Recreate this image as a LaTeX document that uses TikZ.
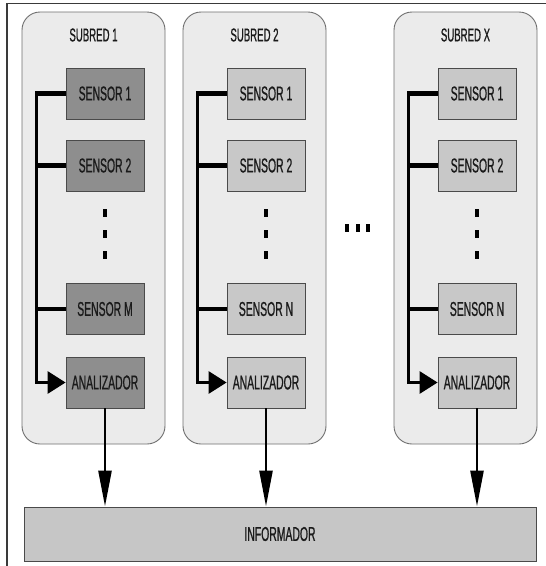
\documentclass[tikz,border=0pt]{standalone}
\usepackage{fontspec}
\newfontfamily\narrowsans[FakeStretch=0.52,FakeBold=0.8]{Liberation Sans}
\usetikzlibrary{arrows.meta}
\definecolor{framecol}{HTML}{3A3A3A}
\definecolor{netfill}{HTML}{EBEBEB}
\definecolor{netline}{HTML}{707070}
\definecolor{darkbox}{HTML}{8E8E8E}
\definecolor{lightbox}{HTML}{C8C8C8}
\definecolor{boxline}{HTML}{4A4A4A}
\definecolor{infofill}{HTML}{C6C6C6}
\definecolor{textcol}{HTML}{1A1A1A}
\tikzset{
  labelfont/.style={font=\narrowsans\fontsize{20}{20}\selectfont, text=textcol},
  subnet/.style={draw=netline, fill=netfill, line width=0.9pt, rounded corners=18pt,
    minimum width=143pt, minimum height=432pt, inner sep=0pt},
  nettitle/.style={labelfont, font=\narrowsans\fontsize{18.5}{18.5}\selectfont, inner sep=0pt},
  sensordark/.style={draw=boxline, fill=darkbox, line width=0.8pt, minimum width=78pt,
    minimum height=51pt, inner sep=0pt, labelfont},
  sensorlight/.style={sensordark, fill=lightbox},
  dotmark/.style={fill=black, minimum width=4pt, minimum height=8pt, inner sep=0pt},
  branch/.style={line width=4.5pt, black},
  busline/.style={line width=3pt, black, line join=miter,
    -{Triangle[length=18pt,width=22pt]}},
  outarrow/.style={line width=2.6pt, black, -{Triangle[length=36pt,width=13pt]}},
  infobox/.style={draw=boxline, fill=infofill, line width=1pt, minimum width=512pt,
    minimum height=54pt, inner sep=0pt, labelfont},
}
\newcommand\drawsubnet[5]{%
  \node[subnet] (#2box) at (#1+71.5,228) {};
  \node[nettitle] (#2title) at (#1+71.5,35) {#3};
  \node[#5] (#2sa) at (#1+83,93.5) {SENSOR 1};
  \node[#5] (#2sb) at (#1+83,165.5) {SENSOR 2};
  \node[dotmark] (#2da) at (#1+83,213) {};
  \node[dotmark] (#2db) at (#1+83,234) {};
  \node[dotmark] (#2dc) at (#1+83,255) {};
  \node[#5] (#2sm) at (#1+83,309) {#4};
  \node[#5] (#2an) at (#1+83,382.5) {ANALIZADOR};
  \coordinate (#2bus) at (#1+14,93.5);
  \coordinate (#2busend) at (#1+12.5,93.5);
  \draw[branch] (#2sa.west) -- (#2busend);
  \draw[branch] (#2sb.west) -- (#2sb.west -| #2bus);
  \draw[branch] (#2sm.west) -- (#2sm.west -| #2bus);
  \draw[busline] (#2bus) |- (#2an.west);
  \draw[outarrow] (#2an.south) -- (#2an.south |- info.north);
}
\begin{document}
\begin{tikzpicture}[x=1pt,y=-1pt]
\useasboundingbox (0,0) rectangle (546,566);
\fill[white] (0,0) rectangle (546,566);
\draw[framecol, line width=1.5pt] (7,566) coordinate (fa) -- (7,3.5) coordinate (fb) -- (546,3.5) coordinate (fc);
\node[infobox] (info) at (280,534) {INFORMADOR};
\drawsubnet{22}{n1}{SUBRED 1}{SENSOR M}{sensordark}
\drawsubnet{183}{n2}{SUBRED 2}{SENSOR N}{sensorlight}
\drawsubnet{394}{nx}{SUBRED X}{SENSOR N}{sensorlight}
\node[dotmark] (ha) at (347,228) {};
\node[dotmark] (hb) at (357.5,228) {};
\node[dotmark] (hc) at (368,228) {};
\end{tikzpicture}
\end{document}
